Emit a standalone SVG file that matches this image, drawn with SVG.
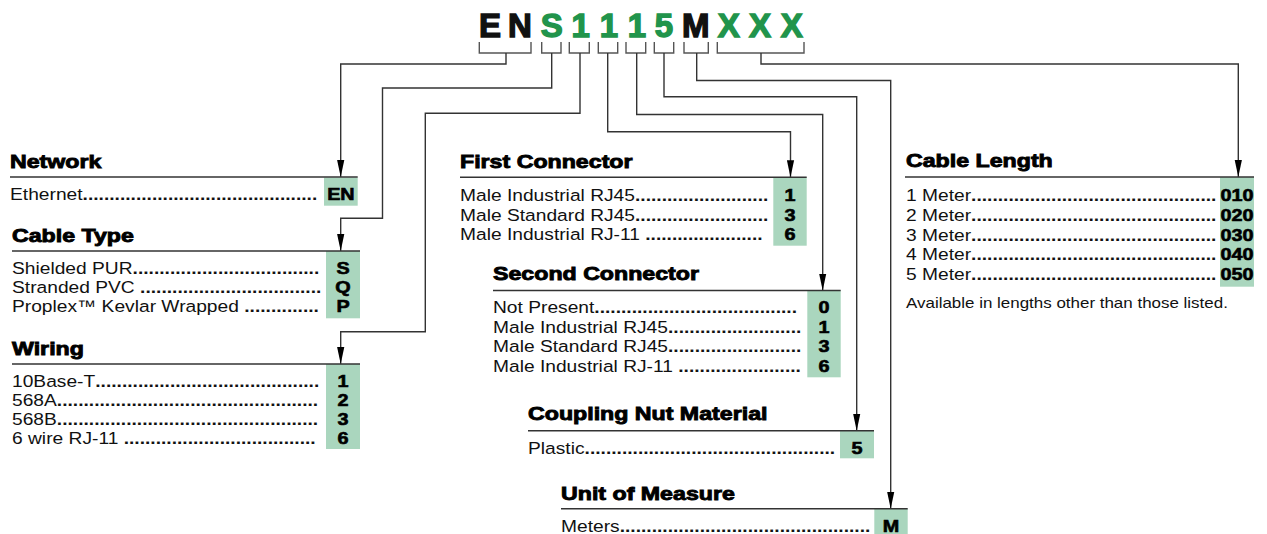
<svg xmlns="http://www.w3.org/2000/svg" width="1267" height="534" viewBox="0 0 1267 534">
<defs>
<style>
.h{font-family:"Liberation Sans",Arial,sans-serif;font-weight:bold;font-size:19px;fill:#000;stroke:#000;stroke-width:0.9}
.t{font-family:"Liberation Sans",Arial,sans-serif;font-size:17px;fill:#111}
.d{font-weight:bold}
.s{font-family:"Liberation Sans",Arial,sans-serif;font-size:15px;fill:#111}
.c{font-family:"Liberation Sans",Arial,sans-serif;font-weight:bold;font-size:16.5px;fill:#000;stroke:#000;stroke-width:0.6;text-anchor:middle}
.k{font-family:"Liberation Sans",Arial,sans-serif;font-weight:bold;font-size:33px;text-anchor:middle;stroke-width:1.4}
.kb{fill:#111;stroke:#111}
.kg{fill:#21944b;stroke:#21944b}
.rule{stroke:#333;stroke-width:1.4;fill:none}
.box{fill:#aad6be}
.br{fill:none;stroke:#555;stroke-width:1.4}
.ln{fill:none;stroke:#333;stroke-width:1.4;marker-end:url(#ah)}
</style>
<marker id="ah" markerUnits="userSpaceOnUse" markerWidth="17" markerHeight="8" viewBox="0 -4 17 8" refX="17" refY="0" orient="auto">
<path d="M0,-3.6 L17,0 L0,3.6 Z" fill="#000"/>
</marker>
</defs>
<rect width="1267" height="534" fill="#fff"/>

<g id="code">
<text class="k kb" x="490" y="37">E</text>
<text class="k kb" x="520" y="37">N</text>
<text class="k kg" x="551.7" y="37">S</text>
<text class="k kg" x="580.7" y="37">1</text>
<text class="k kg" x="609" y="37">1</text>
<text class="k kg" x="637" y="37">1</text>
<text class="k kg" x="664" y="37">5</text>
<text class="k kb" x="695.7" y="37">M</text>
<text class="k kg" x="728.7" y="37">X</text>
<text class="k kg" x="760" y="37">X</text>
<text class="k kg" x="791.7" y="37">X</text>
</g>

<g id="connectors">
<path class="br" d="M479.3,42 V53 H531 V42"/>
<path class="br" d="M541.7,42 V53 H561 V42"/>
<path class="br" d="M569.3,42 V53 H589.3 V42"/>
<path class="br" d="M598.3,42 V53 H617.7 V42"/>
<path class="br" d="M626,42 V53 H645.7 V42"/>
<path class="br" d="M654.3,42 V53 H673.7 V42"/>
<path class="br" d="M684,42 V53 H708.3 V42"/>
<path class="br" d="M717.3,42 V53 H804 V42"/>
<path class="ln" d="M506,53 V64 H340.7 V177"/>
<path class="ln" d="M551.7,53 V88 H382.5 V218.3 H340.7 V251"/>
<path class="ln" d="M580,53 V113.3 H425.3 V331.7 H340.7 V364"/>
<path class="ln" d="M607.7,53 V131.7 H790.5 V177.3"/>
<path class="ln" d="M636.7,53 V114.5 H822.7 V290.5"/>
<path class="ln" d="M664,53 V96.7 H856.7 V430.7"/>
<path class="ln" d="M696.7,53 V80.5 H890.7 V508.7"/>
<path class="ln" d="M761,53 V64 H1238.3 V177"/>
</g>

<g id="network">
<rect class="box" x="324" y="177.5" width="33.7" height="28.2"/>
<line class="rule" x1="10" y1="177" x2="357.7" y2="177"/>
<text class="h" transform="translate(10,168.3) scale(1.22,1)">Network</text>
<text class="t" transform="translate(10,200) scale(1.13,1)">Ethernet<tspan class="d">............................................</tspan></text>
<text class="c" transform="translate(340.9,200) scale(1.2,1)">EN</text>
</g>

<g id="cable-type">
<rect class="box" x="326" y="251" width="34" height="67.3"/>
<line class="rule" x1="12" y1="251" x2="360" y2="251"/>
<text class="h" transform="translate(12,241.7) scale(1.22,1)">Cable Type</text>
<text class="t" transform="translate(12,273.5) scale(1.13,1)">Shielded PUR<tspan class="d">...................................</tspan></text>
<text class="t" transform="translate(12,292.8) scale(1.13,1)">Stranded PVC <tspan class="d">..................................</tspan></text>
<text class="t" transform="translate(12,312.1) scale(1.13,1)">Proplex™ Kevlar Wrapped <tspan class="d">..............</tspan></text>
<text class="c" transform="translate(343,273.5) scale(1.2,1)">S</text>
<text class="c" transform="translate(343,292.8) scale(1.2,1)">Q</text>
<text class="c" transform="translate(343,312.1) scale(1.2,1)">P</text>
</g>

<g id="wiring">
<rect class="box" x="326" y="364" width="34" height="85"/>
<line class="rule" x1="12" y1="364" x2="360" y2="364"/>
<text class="h" transform="translate(12,355) scale(1.22,1)">Wiring</text>
<text class="t" transform="translate(12,387) scale(1.13,1)">10Base-T<tspan class="d">..........................................</tspan></text>
<text class="t" transform="translate(12,406) scale(1.13,1)">568A<tspan class="d">.................................................</tspan></text>
<text class="t" transform="translate(12,425) scale(1.13,1)">568B<tspan class="d">.................................................</tspan></text>
<text class="t" transform="translate(12,444) scale(1.13,1)">6 wire RJ-11 <tspan class="d">....................................</tspan></text>
<text class="c" transform="translate(343,387) scale(1.2,1)">1</text>
<text class="c" transform="translate(343,406) scale(1.2,1)">2</text>
<text class="c" transform="translate(343,425) scale(1.2,1)">3</text>
<text class="c" transform="translate(343,444) scale(1.2,1)">6</text>
</g>

<g id="first-connector">
<rect class="box" x="773.3" y="177.3" width="33.4" height="68.4"/>
<line class="rule" x1="460" y1="177.3" x2="806.7" y2="177.3"/>
<text class="h" transform="translate(460,168.3) scale(1.22,1)">First Connector</text>
<text class="t" transform="translate(460,201) scale(1.13,1)">Male Industrial RJ45<tspan class="d">.........................</tspan></text>
<text class="t" transform="translate(460,220.5) scale(1.13,1)">Male Standard RJ45<tspan class="d">.........................</tspan></text>
<text class="t" transform="translate(460,240) scale(1.13,1)">Male Industrial RJ-11 <tspan class="d">......................</tspan></text>
<text class="c" transform="translate(790,201) scale(1.2,1)">1</text>
<text class="c" transform="translate(790,220.5) scale(1.2,1)">3</text>
<text class="c" transform="translate(790,240) scale(1.2,1)">6</text>
</g>

<g id="second-connector">
<rect class="box" x="807.3" y="290.5" width="33.4" height="86.8"/>
<line class="rule" x1="493" y1="290.5" x2="840.7" y2="290.5"/>
<text class="h" transform="translate(493,280) scale(1.22,1)">Second Connector</text>
<text class="t" transform="translate(493,313.3) scale(1.13,1)">Not Present<tspan class="d">......................................</tspan></text>
<text class="t" transform="translate(493,332.8) scale(1.13,1)">Male Industrial RJ45<tspan class="d">.........................</tspan></text>
<text class="t" transform="translate(493,352.3) scale(1.13,1)">Male Standard RJ45<tspan class="d">.........................</tspan></text>
<text class="t" transform="translate(493,371.8) scale(1.13,1)">Male Industrial RJ-11 <tspan class="d">.......................</tspan></text>
<text class="c" transform="translate(824,313.3) scale(1.2,1)">0</text>
<text class="c" transform="translate(824,332.8) scale(1.2,1)">1</text>
<text class="c" transform="translate(824,352.3) scale(1.2,1)">3</text>
<text class="c" transform="translate(824,371.8) scale(1.2,1)">6</text>
</g>

<g id="coupling-nut">
<rect class="box" x="840" y="430.7" width="34" height="27.6"/>
<line class="rule" x1="528" y1="430.7" x2="874" y2="430.7"/>
<text class="h" transform="translate(528,420) scale(1.22,1)">Coupling Nut Material</text>
<text class="t" transform="translate(528,453.5) scale(1.13,1)">Plastic<tspan class="d">...............................................</tspan></text>
<text class="c" transform="translate(857,453.5) scale(1.2,1)">5</text>
</g>

<g id="unit-of-measure">
<rect class="box" x="874.3" y="508.7" width="33.4" height="25.3"/>
<line class="rule" x1="561" y1="508.7" x2="907.7" y2="508.7"/>
<text class="h" transform="translate(561,500) scale(1.22,1)">Unit of Measure</text>
<text class="t" transform="translate(561,531.5) scale(1.13,1)">Meters<tspan class="d">...............................................</tspan></text>
<text class="c" transform="translate(891,531.5) scale(1.2,1)">M</text>
</g>

<g id="cable-length">
<rect class="box" x="1220" y="177" width="34" height="109.7"/>
<line class="rule" x1="905" y1="177" x2="1254" y2="177"/>
<text class="h" transform="translate(906,167.3) scale(1.22,1)">Cable Length</text>
<text class="t" transform="translate(906,201) scale(1.13,1)">1 Meter<tspan class="d">..............................................</tspan></text>
<text class="t" transform="translate(906,220.8) scale(1.13,1)">2 Meter<tspan class="d">..............................................</tspan></text>
<text class="t" transform="translate(906,240.6) scale(1.13,1)">3 Meter<tspan class="d">..............................................</tspan></text>
<text class="t" transform="translate(906,260.4) scale(1.13,1)">4 Meter<tspan class="d">..............................................</tspan></text>
<text class="t" transform="translate(906,280.2) scale(1.13,1)">5 Meter<tspan class="d">..............................................</tspan></text>
<text class="c" transform="translate(1237,201) scale(1.2,1)">010</text>
<text class="c" transform="translate(1237,220.8) scale(1.2,1)">020</text>
<text class="c" transform="translate(1237,240.6) scale(1.2,1)">030</text>
<text class="c" transform="translate(1237,260.4) scale(1.2,1)">040</text>
<text class="c" transform="translate(1237,280.2) scale(1.2,1)">050</text>
<text class="s" transform="translate(906,308) scale(1.13,1)">Available in lengths other than those listed.</text>
</g>
</svg>
